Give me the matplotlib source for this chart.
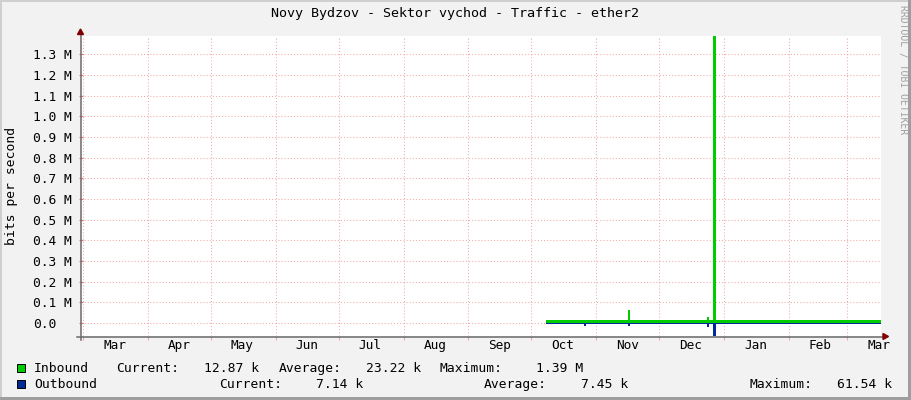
import matplotlib
matplotlib.use('Agg')
import matplotlib.pyplot as plt
import matplotlib.dates as mdates
from matplotlib.lines import Line2D
from matplotlib.patches import Rectangle, Polygon
import numpy as np
import pandas as pd

W, H = 911, 400
FONT = 'DejaVu Sans Mono'

title = "Novy Bydzov - Sektor vychod - Traffic - ether2"
y_label = "bits per second"
watermark = "RRDTOOL / TOBI OETIKER"

# inbound traffic (bits/s), step values starting at each date
in_dates = ["2014-10-08", "2014-11-16", "2014-11-17", "2014-12-24", "2014-12-25",
            "2014-12-27", "2014-12-28", "2015-03-17"]
in_vals = [13000, 63000, 13000, 30000, 13000, 1390000, 13000, 12870]

# outbound traffic (bits/s), drawn below zero
out_dates = ["2014-10-08", "2014-10-26", "2014-10-27", "2014-11-16", "2014-11-17",
             "2014-12-24", "2014-12-25", "2014-12-27", "2014-12-28", "2015-03-17"]
out_vals = [7200, 15000, 7200, 13000, 7200, 18000, 7200, 61540, 7200, 7140]

x_start, x_end = "2014-02-28", "2015-03-17"
month_labels = ["Mar", "Apr", "May", "Jun", "Jul", "Aug", "Sep", "Oct", "Nov", "Dec",
                "Jan", "Feb", "Mar"]
y_ticks = [0, 100000, 200000, 300000, 400000, 500000, 600000, 700000, 800000,
           900000, 1000000, 1100000, 1200000, 1300000]
y_tick_labels = ["0.0", "0.1 M", "0.2 M", "0.3 M", "0.4 M", "0.5 M", "0.6 M", "0.7 M",
                 "0.8 M", "0.9 M", "1.0 M", "1.1 M", "1.2 M", "1.3 M"]
y_min, y_max = -62900, 1388500

series_names = ["Inbound", "Outbound"]
series_colors = ["#00cc00", "#002a97"]
stat_current = ["12.87 k", "7.14 k"]
stat_average = ["23.22 k", "7.45 k"]
stat_maximum = ["1.39 M", "61.54 k"]

GRID = "#f2a8a8"
AXIS = "#6a6a6a"
ARROW = "#7f0000"

fig = plt.figure(figsize=(W / 100, H / 100), dpi=100)
fig.set_facecolor("#f2f2f2")


def f(x, y):
    return (x / W, 1 - y / H)


ax = fig.add_axes([81 / W, (H - 336) / H, 800 / W, 300 / H])
ax.set_facecolor("white")

xi = mdates.date2num(pd.to_datetime(in_dates))
xo = mdates.date2num(pd.to_datetime(out_dates))
ax.fill_between(xi, 0, np.array(in_vals), step='post', color=series_colors[0], lw=0, zorder=3)
ax.fill_between(xo, 0, -np.array(out_vals), step='post', color=series_colors[1], lw=0, zorder=3)

ax.set_xlim(mdates.date2num(pd.Timestamp(x_start)), mdates.date2num(pd.Timestamp(x_end)))
ax.set_ylim(y_min, y_max)

for s in ax.spines.values():
    s.set_visible(False)

month_starts = pd.date_range("2014-03-01", periods=13, freq=pd.DateOffset(months=1))
month_mids = pd.date_range("2014-03-16", periods=13, freq=pd.DateOffset(months=1))
ax.set_xticks(mdates.date2num(month_starts))
ax.set_xticklabels([])
ax.set_xticks(mdates.date2num(month_mids), minor=True)
ax.set_xticklabels(month_labels, minor=True, fontfamily=FONT, fontsize=9.2)
ax.tick_params(axis='x', which='major', direction='out', length=2.9, color=GRID, width=0.8)
ax.tick_params(axis='x', which='minor', length=0, pad=2.5)

ax.set_yticks(y_ticks)
ax.set_yticklabels(y_tick_labels, fontfamily=FONT, fontsize=9.3, ha='left')
ax.tick_params(axis='y', direction='inout', length=2.9, color="#e07070", width=0.8, pad=33.1)

ax.set_axisbelow(True)
ax.grid(True, which='major', color=GRID, lw=0.75, ls=(0, (1, 2)))

# axis lines and arrows
fig.add_artist(Line2D([f(80.5, 340)[0], f(80.5, 31)[0]], [f(80.5, 340)[1], f(80.5, 31)[1]],
                      color=AXIS, lw=1.1, transform=fig.transFigure, zorder=10))
fig.add_artist(Line2D([f(77, 336.5)[0], f(885, 336.5)[0]], [f(77, 336.5)[1], f(885, 336.5)[1]],
                      color=AXIS, lw=1.1, transform=fig.transFigure, zorder=10))
fig.add_artist(Polygon([f(77.5, 34.5), f(83.5, 34.5), f(80.5, 29)], closed=True,
                       color=ARROW, transform=fig.transFigure, zorder=11))
fig.add_artist(Polygon([f(883, 333.5), f(883, 339.5), f(888.5, 336.5)], closed=True,
                       color=ARROW, transform=fig.transFigure, zorder=11))

# title, axis label, watermark
fig.text(*f(455, 14), title, ha='center', va='center', fontfamily=FONT, fontsize=9.6)
fig.text(*f(12, 186), y_label, ha='center', va='center', rotation=90,
         fontfamily=FONT, fontsize=9.4)
fig.text(*f(903, 5), watermark, ha='center', va='top', rotation=270,
         fontfamily=FONT, fontsize=7.0, color="#a0a0a0")

# legend
rows_base = [372, 388]
cols = [
    [116, 204.5, 279, 366, 440, 536],
    [219, 315.5, 484, 581, 749.6, 837],
]
for i in range(2):
    yb = rows_base[i]
    fig.add_artist(Rectangle(f(17, yb), 8 / W, 8 / H, facecolor=series_colors[i],
                             edgecolor='black', lw=0.7, transform=fig.transFigure))
    fig.text(*f(34, yb), series_names[i], ha='left', va='baseline', fontfamily=FONT, fontsize=9.4)
    parts = ["Current:", stat_current[i], "Average:", stat_average[i], "Maximum:", stat_maximum[i]]
    for x, t in zip(cols[i], parts):
        fig.text(*f(x, yb), t, ha='left', va='baseline', fontfamily=FONT, fontsize=9.4)

# frame shading
fig.add_artist(Rectangle(f(0, 2), 1, 2 / H, color="#cfcfcf", lw=0, transform=fig.transFigure))
fig.add_artist(Rectangle(f(0, 400), 2 / W, 1, color="#cfcfcf", lw=0, transform=fig.transFigure))
fig.add_artist(Rectangle(f(908, 400), 3 / W, 1, color="#9e9e9e", lw=0, transform=fig.transFigure))
fig.add_artist(Rectangle(f(0, 400), 1, 3 / H, color="#9e9e9e", lw=0, transform=fig.transFigure))

fig.savefig("out.png", dpi=100, facecolor=fig.get_facecolor())
